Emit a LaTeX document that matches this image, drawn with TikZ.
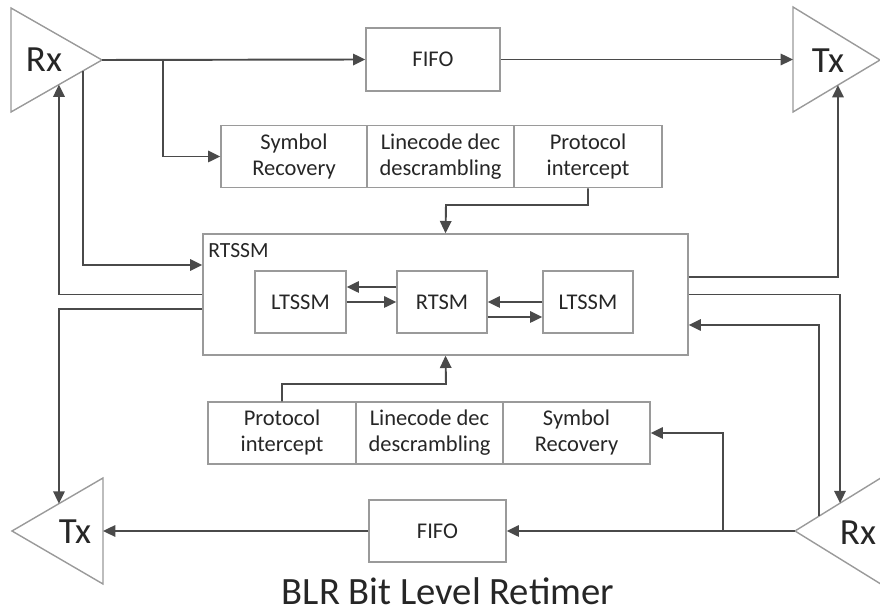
\documentclass[tikz,border=0pt]{standalone}
\usepackage{fontspec}
\setmainfont{Carlito}
\usepackage{xcolor}
\usetikzlibrary{arrows.meta,calc}

\definecolor{wire}{HTML}{4A4A4A}
\definecolor{edge}{HTML}{9A9A9A}
\definecolor{ink}{HTML}{262626}

\begin{document}
\begin{tikzpicture}[
  x=0.02cm, y=-0.02cm,
  box/.style={draw=edge,line width=0.8pt,align=center,inner sep=0pt,text=ink,
              minimum height=1.25cm,font=\fontsize{12.8}{14.8}\selectfont},
  tri/.style={draw=edge,line width=0.8pt},
  port/.style={text=ink,font=\fontsize{21}{24}\selectfont},
  flow/.style={draw=wire,line width=1.1pt,-{Triangle[length=7pt,width=6.5pt]}}
]
\useasboundingbox (0,0) rectangle (880,614);

% line drivers
\draw[tri] (11,8) coordinate (rxA-top) -- (102,60) coordinate (rxA-tip) -- (11,112) coordinate (rxA-bot) -- cycle;
\draw[tri] (793,7) coordinate (txA-top) -- (880,60) coordinate (txA-tip) -- (793,112) coordinate (txA-bot) -- cycle;
\draw[tri] (103,478) coordinate (txB-top) -- (12,531) coordinate (txB-tip) -- (103,584) coordinate (txB-bot) -- cycle;
\draw[tri] (884,476) coordinate (rxB-top) -- (795,531) coordinate (rxB-tip) -- (884,586) coordinate (rxB-bot) -- cycle;
\node[port] (rxAlbl) at (44,60) {Rx};
\node[port] (txAlbl) at (828,61) {Tx};
\node[port] (txBlbl) at (75,532) {Tx};
\node[port] (rxBlbl) at (858,533) {Rx};

% points on the triangle edges
\coordinate (rxA-out) at ($(rxA-tip)!0.209!(rxA-bot)$);
\coordinate (rxA-in)  at ($(rxA-tip)!0.473!(rxA-bot)$);
\coordinate (txA-base) at ($(txA-top)!0.5!(txA-bot)$);
\coordinate (txA-in)  at ($(txA-tip)!0.483!(txA-bot)$);
\coordinate (txB-base) at ($(txB-top)!0.5!(txB-bot)$);
\coordinate (txB-in)  at ($(txB-tip)!0.516!(txB-top)$);
\coordinate (rxB-in)  at ($(rxB-tip)!0.506!(rxB-top)$);
\coordinate (rxB-out) at ($(rxB-tip)!0.270!(rxB-top)$);
\coordinate (splitA) at (163,60);
\coordinate (splitB) at (723,531);
\coordinate (jT) at (446,205);
\coordinate (jB) at (446,384);

% upper path
\node[box,minimum width=2.68cm,minimum height=1.26cm] (fifoT) at (433,59.5) {FIFO};
\node[box,minimum width=2.92cm] (symT) at (294,156.5) {Symbol\\Recovery};
\node[box,minimum width=2.94cm] (lineT) at (440.5,156.5) {Linecode dec\\descrambling};
\node[box,minimum width=2.96cm] (protT) at (588,156.5) {Protocol\\intercept};

% retimer state machines
\node[box,minimum width=9.7cm,minimum height=2.42cm] (rtssm) at (445.5,294.5) {};
\node[anchor=north west,inner sep=0pt,text=ink,font=\fontsize{12.3}{14}\selectfont] (rtssmlbl) at (208,243) {RTSSM};
\node[box,minimum width=1.82cm,minimum height=1.24cm] (ltA) at (300.5,302) {LTSSM};
\node[box,minimum width=1.80cm,minimum height=1.24cm] (rtsm) at (442,302) {RTSM};
\node[box,minimum width=1.80cm,minimum height=1.24cm] (ltB) at (588,302) {LTSSM};

% lower path
\node[box,minimum width=2.96cm,minimum height=1.24cm] (protB) at (282,433) {Protocol\\intercept};
\node[box,minimum width=2.94cm,minimum height=1.24cm] (lineB) at (429.5,433) {Linecode dec\\descrambling};
\node[box,minimum width=2.94cm,minimum height=1.24cm] (symB) at (576.5,433) {Symbol\\Recovery};
\node[box,minimum width=2.74cm,minimum height=1.24cm] (fifoB) at (437.5,531) {FIFO};

\node[text=ink,inner sep=1pt,font=\fontsize{22}{24}\selectfont] (caption) at (448,591) {BLR Bit Level Retimer};

% upper connectors
\draw[flow] (rxA-tip) -- (fifoT.west);
\draw[flow] (fifoT.east) -- (txA-base);
\draw[flow] (splitA) |- (symT.west);
\draw[flow] (protT.south) |- (jT) -- (rtssm.north);
\draw[flow] (rxA-out) |- ([yshift=0.59cm]rtssm.west);
\draw[flow] (rtssm.west) -| (rxA-in);
\draw[flow] ([yshift=-0.29cm]rtssm.west) -| (txB-in);
\draw[flow] ([yshift=0.35cm]rtssm.east) -| (txA-in);
\draw[flow] (rtssm.east) -| (rxB-in);
\draw[flow] (rxB-out) |- ([yshift=-0.61cm]rtssm.east);

% inside the RTSSM
\draw[flow] ([yshift=0.3cm]rtsm.west) -- ([yshift=0.3cm]ltA.east);
\draw[flow] (ltA.east) -- (rtsm.west);
\draw[flow] (ltB.west) -- (rtsm.east);
\draw[flow] ([yshift=-0.3cm]rtsm.east) -- ([yshift=-0.3cm]ltB.west);

% lower connectors
\draw[flow] (rxB-tip) -- (fifoB.east);
\draw[flow] (fifoB.west) -- (txB-base);
\draw[flow] (splitB) |- (symB.east);
\draw[flow] (protB.north) |- (jB) -- (rtssm.south);
\end{tikzpicture}
\end{document}
